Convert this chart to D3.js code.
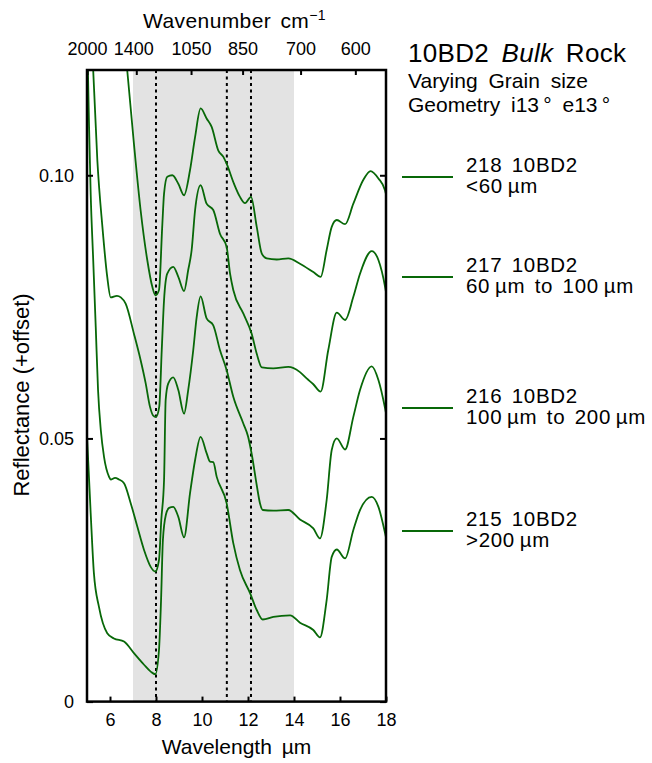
<!DOCTYPE html>
<html>
<head>
<meta charset="utf-8">
<script src="https://cdn.jsdelivr.net/npm/d3@7"></script>
<style>
  body { margin: 0; background: #fff; }
  svg text { font-family: "Liberation Sans", Arial, Helvetica, sans-serif; fill: #000; }
</style>
</head>
<body>
<div id="chart"></div>
<script>
//************* data ***************/
var wavelengthTicks = [6, 8, 10, 12, 14, 16, 18];
var wavenumberTicks = [2000, 1400, 1050, 850, 700, 600];
var reflectanceTicks = [0, 0.05, 0.10];
var shadedBand = [7, 14];
var markerWavelengths = [8.0, 11.08, 12.13];

var sampleIds = ["218 10BD2", "217 10BD2", "216 10BD2", "215 10BD2"];
var grainSizes = ["<60\u2009µm", "60\u2009µm to 100\u2009µm", "100\u2009µm to 200\u2009µm", ">200\u2009µm"];

// [wavelength µm, reflectance (+offset)]
var spec218 = [
  [6.65, 0.1250], [6.75, 0.1199], [7.04, 0.1060], [7.33, 0.0934], [7.62, 0.0839],
  [7.84, 0.0788], [7.98, 0.0772], [8.13, 0.0782], [8.27, 0.0902], [8.35, 0.0965],
  [8.49, 0.0997], [8.71, 0.1000], [8.97, 0.0984], [9.22, 0.0962], [9.48, 0.1010],
  [9.70, 0.1073], [9.94, 0.1127], [10.20, 0.1108], [10.42, 0.1092], [10.71, 0.1047],
  [10.93, 0.1035], [11.07, 0.1022], [11.39, 0.0984], [11.65, 0.0959], [11.87, 0.0947],
  [12.13, 0.0959], [12.38, 0.0902], [12.60, 0.0851], [12.81, 0.0842], [13.25, 0.0840],
  [13.75, 0.0842], [14.26, 0.0832], [14.84, 0.0816], [15.16, 0.0807], [15.42, 0.0858],
  [15.64, 0.0902], [15.86, 0.0915], [16.22, 0.0907], [16.58, 0.0946], [17.01, 0.0991],
  [17.33, 0.1008], [17.67, 0.0994], [17.96, 0.0971], [18.0, 0.0964]
];
var spec217 = [
  [5.20, 0.1250], [5.27, 0.1199], [5.45, 0.1028], [5.67, 0.0902], [5.88, 0.0807],
  [6.03, 0.0768], [6.30, 0.0771], [6.47, 0.0768], [6.68, 0.0756], [7.04, 0.0699],
  [7.33, 0.0649], [7.55, 0.0605], [7.74, 0.0560], [7.87, 0.0544], [8.00, 0.0541],
  [8.14, 0.0560], [8.25, 0.0668], [8.35, 0.0763], [8.49, 0.0813], [8.75, 0.0826],
  [8.97, 0.0807], [9.22, 0.0780], [9.40, 0.0820], [9.55, 0.0858], [9.70, 0.0934],
  [9.94, 0.0981], [10.20, 0.0946], [10.49, 0.0934], [10.78, 0.0889], [11.07, 0.0864],
  [11.22, 0.0813], [11.36, 0.0782], [11.80, 0.0737], [12.16, 0.0699], [12.38, 0.0661],
  [12.60, 0.0635], [13.10, 0.0633], [13.75, 0.0636], [14.26, 0.0626], [14.55, 0.0614],
  [14.84, 0.0603], [15.16, 0.0589], [15.49, 0.0668], [15.86, 0.0739], [16.22, 0.0725],
  [16.58, 0.0769], [16.87, 0.0813], [17.38, 0.0856], [17.67, 0.0839], [17.96, 0.0788],
  [18.0, 0.0778]
];
var spec216 = [
  [5.00, 0.1290], [5.04, 0.1199], [5.09, 0.1092], [5.16, 0.0965], [5.27, 0.0839],
  [5.38, 0.0712], [5.48, 0.0592], [5.60, 0.0516], [5.74, 0.0465], [5.96, 0.0427],
  [6.03, 0.0422], [6.22, 0.0425], [6.39, 0.0422], [6.61, 0.0415], [6.90, 0.0377],
  [7.19, 0.0332], [7.48, 0.0288], [7.77, 0.0256], [7.97, 0.0247], [8.13, 0.0269],
  [8.23, 0.0345], [8.35, 0.0421], [8.42, 0.0573], [8.53, 0.0604], [8.75, 0.0616],
  [8.97, 0.0592], [9.22, 0.0547], [9.40, 0.0592], [9.62, 0.0668], [9.77, 0.0731],
  [9.94, 0.0770], [10.20, 0.0728], [10.49, 0.0715], [10.78, 0.0668], [11.07, 0.0630],
  [11.36, 0.0579], [11.80, 0.0528], [12.00, 0.0504], [12.17, 0.0468], [12.38, 0.0411],
  [12.52, 0.0377], [12.64, 0.0364], [13.10, 0.0363], [13.75, 0.0364], [14.26, 0.0346],
  [14.84, 0.0329], [15.13, 0.0310], [15.42, 0.0383], [15.64, 0.0478], [15.86, 0.0500],
  [16.22, 0.0479], [16.58, 0.0541], [16.87, 0.0592], [17.38, 0.0637], [17.67, 0.0611],
  [17.96, 0.0557], [18.0, 0.0548]
];
var spec215 = [
  [5.00, 0.0505], [5.16, 0.0358], [5.30, 0.0244], [5.52, 0.0180], [5.88, 0.0130],
  [6.17, 0.0120], [6.61, 0.0114], [7.04, 0.0092], [7.48, 0.0070], [7.77, 0.0057],
  [7.97, 0.0052], [8.13, 0.0098], [8.22, 0.0193], [8.30, 0.0307], [8.43, 0.0355],
  [8.57, 0.0368], [8.75, 0.0370], [8.97, 0.0351], [9.22, 0.0312], [9.48, 0.0396],
  [9.70, 0.0459], [9.94, 0.0503], [10.20, 0.0472], [10.35, 0.0456], [10.49, 0.0455],
  [10.64, 0.0427], [11.07, 0.0377], [11.36, 0.0301], [11.65, 0.0250], [12.09, 0.0206],
  [12.38, 0.0174], [12.64, 0.0156], [13.10, 0.0161], [13.83, 0.0164], [14.26, 0.0150],
  [14.84, 0.0136], [15.13, 0.0122], [15.42, 0.0193], [15.64, 0.0275], [15.86, 0.0289],
  [16.22, 0.0272], [16.58, 0.0326], [16.87, 0.0364], [17.38, 0.0389], [17.67, 0.0370],
  [17.96, 0.0320], [18.0, 0.0312]
];
var spectra = [spec218, spec217, spec216, spec215];

//************* set dimensions ***************/
var width = 652, height = 763;
var plot = {left: 87, right: 386, top: 70, bottom: 701.6};
var green = "#086808";
var fontStack = '"Liberation Sans", Arial, Helvetica, sans-serif';

var svg = d3.select("#chart").append("svg")
    .attr("width", width)
    .attr("height", height);

//************* scales ***************/
var x = d3.scaleLinear().domain([5, 18]).range([plot.left, plot.right]);
var y = d3.scaleLinear().domain([0, 0.12]).range([plot.bottom, plot.top]);

svg.append("clipPath").attr("id", "plotClip")
  .append("rect")
    .attr("x", plot.left).attr("y", plot.top)
    .attr("width", plot.right - plot.left).attr("height", plot.bottom - plot.top);

//************* shaded band and marker lines ***************/
svg.append("rect")
    .attr("x", x(shadedBand[0]))
    .attr("y", plot.top)
    .attr("width", x(shadedBand[1]) - x(shadedBand[0]))
    .attr("height", plot.bottom - plot.top)
    .attr("fill", "#e3e3e3");

svg.selectAll(".marker")
  .data(markerWavelengths)
  .enter().append("line")
    .attr("class", "marker")
    .attr("x1", function(d){ return x(d); })
    .attr("x2", function(d){ return x(d); })
    .attr("y1", plot.top)
    .attr("y2", plot.bottom)
    .attr("stroke", "#000")
    .attr("stroke-width", 2)
    .attr("stroke-dasharray", "3,3.5");

//************* spectra ***************/
var line = d3.line()
    .x(function(d){ return x(d[0]); })
    .y(function(d){ return y(d[1]); })
    .curve(d3.curveMonotoneX);

svg.append("g").attr("clip-path", "url(#plotClip)")
  .selectAll("path")
  .data(spectra)
  .enter().append("path")
    .attr("d", line)
    .attr("fill", "none")
    .attr("stroke", green)
    .attr("stroke-width", 1.8);

//***************** axes *******************/
function styleAxis(g) {
  g.select(".domain").remove();
  g.selectAll(".tick line").attr("stroke", "#000").attr("stroke-width", 2);
  g.selectAll(".tick text").attr("font-family", fontStack).attr("font-size", 18).attr("fill", "#000");
}

svg.append("g")
    .attr("transform", "translate(0," + plot.bottom + ")")
    .call(d3.axisBottom(x).tickValues(wavelengthTicks).tickSize(-5).tickPadding(12)
      .tickFormat(d3.format("d")))
    .call(styleAxis);

var topAxis = svg.append("g")
    .attr("transform", "translate(0," + plot.top + ")")
    .call(d3.axisTop(x).tickValues(wavenumberTicks.map(function(w){ return 1e4 / w; }))
      .tickSize(-5).tickPadding(15)
      .tickFormat(function(d){ return Math.round(1e4 / d); }))
    .call(styleAxis);
// the 1400 label sits a little left of its tick to clear 2000
topAxis.selectAll(".tick text").attr("dx", function(d){ return Math.round(1e4 / d) === 1400 ? -3 : 0; });

svg.append("g")
    .attr("transform", "translate(" + plot.left + ",0)")
    .call(d3.axisLeft(y).tickValues(reflectanceTicks).tickSize(-6).tickPadding(13)
      .tickFormat(function(d){ return d === 0 ? "0" : d3.format(".2f")(d); }))
    .call(styleAxis);

svg.append("g")
    .attr("transform", "translate(" + plot.right + ",0)")
    .call(d3.axisRight(y).tickValues(reflectanceTicks).tickSize(-6).tickFormat(""))
    .call(styleAxis);

// frame
svg.append("rect")
    .attr("x", plot.left).attr("y", plot.top)
    .attr("width", plot.right - plot.left).attr("height", plot.bottom - plot.top)
    .attr("fill", "none")
    .attr("stroke", "#000")
    .attr("stroke-width", 2.5);

//************* labels ***************/
svg.append("text")
    .attr("x", (plot.left + plot.right) / 2)
    .attr("y", 754)
    .attr("text-anchor", "middle")
    .attr("font-size", 21)
    .attr("word-spacing", 4)
    .text("Wavelength µm");

var topLabel = svg.append("text")
    .attr("x", (plot.left + plot.right) / 2 - 2)
    .attr("y", 28)
    .attr("text-anchor", "middle")
    .attr("font-size", 21)
    .attr("letter-spacing", 0.4)
    .attr("word-spacing", 3);
topLabel.append("tspan").text("Wavenumber cm");
topLabel.append("tspan").attr("dy", -8).attr("font-size", 14).text("\u22121");

svg.append("text")
    .attr("transform", "translate(29," + 395 + ") rotate(-90)")
    .attr("text-anchor", "middle")
    .attr("font-size", 22)
    .text("Reflectance (+offset)");

//************* title block ***************/
var title = svg.append("text")
    .attr("x", 408).attr("y", 62)
    .attr("font-size", 26)
    .attr("letter-spacing", 0.3)
    .attr("word-spacing", 5);
title.append("tspan").text("10BD2 ");
title.append("tspan").attr("font-style", "italic").text("Bulk");
title.append("tspan").text(" Rock");

svg.append("text")
    .attr("x", 408).attr("y", 88)
    .attr("font-size", 21)
    .attr("word-spacing", 5)
    .text("Varying Grain size");

svg.append("text")
    .attr("x", 408).attr("y", 112)
    .attr("font-size", 21)
    .attr("word-spacing", 5)
    .text("Geometry i13\u2009° e13\u2009°");

//************* legend ***************/
var legendRowY = [177, 277, 408, 531];

sampleIds.forEach(function(id, i){
  var row = svg.append("g")
      .attr("transform", "translate(0," + legendRowY[i] + ")");

  row.append("line")
      .attr("x1", 402).attr("x2", 453)
      .attr("y1", 0).attr("y2", 0)
      .attr("stroke", green)
      .attr("stroke-width", 1.8);

  row.append("text")
      .attr("x", 466).attr("y", -5)
      .attr("font-size", 20.5)
      .attr("letter-spacing", 0.7)
      .attr("word-spacing", 3)
      .text(id);

  row.append("text")
      .attr("x", 466).attr("y", 16)
      .attr("font-size", 20.5)
      .attr("letter-spacing", 0.7)
      .attr("word-spacing", 3)
      .text(grainSizes[i]);
});
</script>
</body>
</html>
